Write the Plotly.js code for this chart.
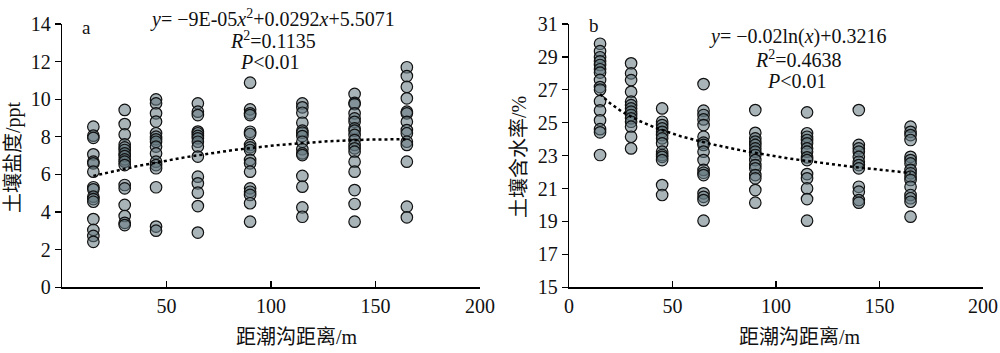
<!DOCTYPE html>
<html>
<head>
<meta charset="utf-8">
<script src="https://cdn.plot.ly/plotly-3.0.1.min.js"></script>
<style>html,body{margin:0;padding:0;background:#fff;}#chart{width:1000px;height:353px;}</style>
</head>
<body>
<div id="chart"></div>
<script>
// Distance groups (m)
const distances = [15, 30, 45, 65, 90, 115, 140, 165];

// Panel a: soil salinity (ppt) per distance group
const salinity15  = [8.54, 8.06, 7.95, 7.07, 6.68, 6.59, 6.15, 5.32, 5.21, 4.82, 4.69, 4.55, 3.63, 3.05, 2.73, 2.42];
const salinity30  = [9.43, 8.68, 8.13, 7.60, 7.44, 7.30, 7.12, 6.98, 6.80, 6.68, 6.50, 5.44, 5.26, 4.38, 3.79, 3.43, 3.31];
const salinity45  = [9.99, 9.78, 9.25, 8.81, 8.19, 8.01, 7.87, 7.74, 7.48, 7.12, 6.68, 6.50, 6.33, 5.32, 3.23, 3.01];
const salinity65  = [9.78, 9.34, 9.16, 8.28, 8.19, 8.05, 7.92, 7.74, 7.48, 6.95, 5.88, 5.53, 5.03, 4.32, 2.91];
const salinity90  = [10.88, 9.46, 9.25, 9.16, 8.27, 8.15, 7.57, 7.44, 7.30, 6.77, 6.59, 6.15, 5.26, 5.08, 4.91, 4.47, 3.49];
const salinity115 = [9.78, 9.57, 9.28, 8.75, 8.33, 8.22, 8.04, 7.74, 7.34, 7.12, 7.03, 5.92, 5.35, 4.25, 3.75];
const salinity140 = [10.28, 9.81, 9.74, 9.25, 8.98, 8.80, 8.45, 8.33, 8.10, 7.83, 7.57, 7.39, 7.21, 6.68, 6.15, 5.17, 4.43, 3.49];
const salinity165 = [11.70, 11.23, 10.66, 10.05, 9.34, 9.25, 8.80, 8.36, 8.19, 7.74, 7.57, 6.68, 4.29, 3.72];

// Panel b: soil water content (%) per distance group
const moisture15  = [29.80, 29.35, 28.98, 28.73, 28.51, 28.25, 28.05, 27.60, 27.17, 27.01, 26.31, 25.75, 25.15, 24.61, 24.42, 23.04];
const moisture30  = [28.61, 28.00, 27.59, 26.88, 26.28, 26.07, 25.87, 25.67, 25.47, 25.27, 25.06, 24.76, 24.15, 23.44];
const moisture45  = [25.87, 25.06, 24.86, 24.66, 24.45, 24.25, 24.05, 23.75, 23.24, 23.04, 22.93, 22.73, 21.21, 20.61];
const moisture65  = [27.35, 25.73, 25.47, 25.20, 24.86, 24.15, 23.79, 23.65, 23.24, 22.73, 22.13, 21.96, 21.82, 20.71, 20.50, 20.30, 19.05];
const moisture90  = [25.77, 24.39, 24.05, 23.85, 23.65, 23.44, 23.24, 23.04, 22.73, 22.43, 22.23, 21.82, 21.62, 20.91, 20.14];
const moisture115 = [25.63, 24.36, 24.15, 23.95, 23.75, 23.44, 23.24, 22.90, 22.73, 21.88, 21.62, 21.01, 20.36, 19.05];
const moisture140 = [25.77, 23.65, 23.44, 23.24, 22.93, 22.63, 22.43, 22.23, 21.11, 20.81, 20.30, 20.14];
const moisture165 = [24.76, 24.45, 24.25, 23.95, 22.93, 22.73, 22.53, 22.13, 21.93, 21.72, 21.52, 21.11, 20.61, 20.41, 20.20, 19.29];

// Fitted equations printed on the chart
const quadCoef = [-9e-5, 0.0292, 5.5071];   // a: y = c0 x^2 + c1 x + c2
const logCoef = [-0.02, 0.3216];            // b: y = c0 ln(x) + c1 (fraction)
const fitRange = [15, 165];

const xTicksA = [50, 100, 150, 200];
const xTicksB = [0, 50, 100, 150, 200];
const yTicksA = [0, 2, 4, 6, 8, 10, 12, 14];
const yTicksB = [15, 17, 19, 21, 23, 25, 27, 29, 31];

const salinityGroups = [salinity15, salinity30, salinity45, salinity65, salinity90, salinity115, salinity140, salinity165];
const moistureGroups = [moisture15, moisture30, moisture45, moisture65, moisture90, moisture115, moisture140, moisture165];

function flatten(groups) {
  const xs = [], ys = [];
  groups.forEach((g, i) => g.forEach(v => { xs.push(distances[i]); ys.push(v); }));
  return {xs, ys};
}
const A = flatten(salinityGroups);
const B = flatten(moistureGroups);

const fitX = [];
for (let x = fitRange[0]; x <= fitRange[1]; x += 1) fitX.push(x);
const fitA = fitX.map(x => quadCoef[0] * x * x + quadCoef[1] * x + quadCoef[2]);
const fitB = fitX.map(x => (logCoef[0] * Math.log(x) + logCoef[1]) * 100);

const marker = {size: 11.5, color: 'rgba(98,118,126,0.55)', line: {color: '#111', width: 1.2}};
const serif = 'Liberation Serif, Times New Roman, serif';
const cjk = 'Liberation Serif, Noto Sans CJK SC, serif';

const traces = [
  {x: A.xs, y: A.ys, type: 'scatter', mode: 'markers', marker: marker, xaxis: 'x', yaxis: 'y'},
  {x: fitX, y: fitA, type: 'scatter', mode: 'lines', line: {color: '#000', width: 2.5, dash: 'dot'}, xaxis: 'x', yaxis: 'y'},
  {x: B.xs, y: B.ys, type: 'scatter', mode: 'markers', marker: marker, xaxis: 'x2', yaxis: 'y2'},
  {x: fitX, y: fitB, type: 'scatter', mode: 'lines', line: {color: '#000', width: 2.5, dash: 'dot'}, xaxis: 'x2', yaxis: 'y2'}
];

const axisCommon = {
  showgrid: false, zeroline: false, showline: true, linecolor: '#000', linewidth: 1.2,
  tickcolor: '#000', ticklen: 6, tickwidth: 1.2, tickfont: {family: serif, size: 20, color: '#111'},
  fixedrange: true
};
const yDomain = [1 - 287.3 / 353, 1 - 24 / 353];

function note(px, py, text, size, family, angle) {
  return {xref: 'paper', yref: 'paper', x: px / 1000, y: 1 - py / 353, xanchor: 'center', yanchor: 'middle',
          text: text, showarrow: false, textangle: angle || 0, font: {family: family, size: size, color: '#111'}};
}

const layout = {
  width: 1000, height: 353,
  margin: {l: 0, r: 0, t: 0, b: 0},
  paper_bgcolor: '#fff', plot_bgcolor: '#fff',
  showlegend: false,
  xaxis: Object.assign({}, axisCommon, {domain: [0.062, 0.480], range: [0, 200], tickvals: xTicksA, ticks: 'inside', anchor: 'y'}),
  yaxis: Object.assign({}, axisCommon, {domain: yDomain, range: [0, 14], tickvals: yTicksA, ticks: 'outside', anchor: 'x'}),
  xaxis2: Object.assign({}, axisCommon, {domain: [0.569, 0.983], range: [0, 200], tickvals: xTicksB, ticks: 'inside', anchor: 'y2'}),
  yaxis2: Object.assign({}, axisCommon, {domain: yDomain, range: [15, 31], tickvals: yTicksB, ticks: 'outside', anchor: 'x2'}),
  annotations: [
    note(13, 157, '土壤盐度/ppt', 20, cjk, -90),
    note(519, 157, '土壤含水率/%', 20, cjk, -90),
    note(297, 337, '距潮沟距离/m', 20, cjk),
    note(800, 337, '距潮沟距离/m', 20, cjk),
    note(86, 27, 'a', 19, serif),
    note(594, 26, 'b', 19, serif),
    note(272, 18, '<i>y</i>= −9E-05<i>x</i><sup>2</sup>+0.0292<i>x</i>+5.5071', 20, serif),
    note(273, 40, '<i>R</i><sup>2</sup>=0.1135', 20, serif),
    note(270, 62, '<i>P</i><0.01', 20, serif),
    note(798, 37, '<i>y</i>= −0.02ln(<i>x</i>)+0.3216', 20, serif),
    note(798, 59, '<i>R</i><sup>2</sup>=0.4638', 20, serif),
    note(797, 81, '<i>P</i><0.01', 20, serif)
  ]
};

Plotly.newPlot('chart', traces, layout, {displayModeBar: false, staticPlot: true});
</script>
</body>
</html>
